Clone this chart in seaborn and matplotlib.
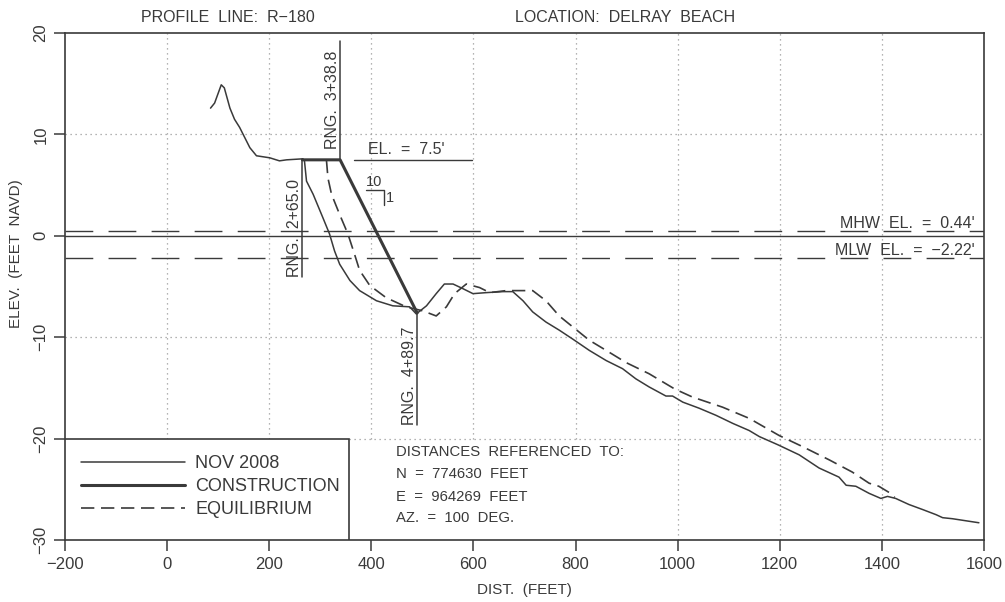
import matplotlib
matplotlib.use("Agg")
import matplotlib.pyplot as plt
import seaborn as sns
import pandas as pd
from matplotlib.patches import Rectangle

# ---------------- data ----------------
nov_x = [85, 93, 106, 112, 123, 132, 142, 152, 162, 175, 201, 220, 234, 266, 269, 273, 286,
         305, 318, 328, 338, 358, 377, 410, 442, 475, 488, 508, 527, 543, 560, 579, 599,
         625, 658, 677, 697, 716, 742, 768, 795, 827, 860, 892, 918, 944, 977,
         990, 1010, 1042, 1075, 1108, 1140, 1160, 1196, 1238, 1277, 1316, 1330, 1349,
         1375, 1398, 1411, 1427, 1453, 1480, 1506, 1519, 1538, 1564, 1590]
nov_y = [12.6, 13.1, 14.9, 14.6, 12.6, 11.5, 10.7, 9.7, 8.7, 7.9, 7.7, 7.4, 7.5, 7.6, 7.4,
         5.4, 4.1, 1.8, 0.2, -1.5, -2.8, -4.4, -5.4, -6.4, -6.9, -7.0, -7.7, -6.9, -5.7,
         -4.75, -4.75, -5.2, -5.7, -5.6, -5.5, -5.5, -6.4, -7.5, -8.5, -9.3,
         -10.2, -11.3, -12.3, -13.1, -14.1, -14.9, -15.8, -15.8, -16.4, -17.0, -17.7,
         -18.5, -19.2, -19.8, -20.6, -21.6, -22.9, -23.8, -24.6, -24.7, -25.4, -25.9,
         -25.7, -25.9, -26.5, -27.0, -27.5, -27.8, -27.9, -28.1, -28.3]

eq_x = [312, 315, 322, 338, 354, 367, 377, 397, 429, 468, 501, 527, 547, 563, 586, 612,
        632, 664, 716, 742, 768, 795, 827, 860, 899, 944, 994, 1029, 1088,
        1140, 1199, 1245, 1297, 1342, 1375, 1394, 1417, 1425]
eq_y = [7.5, 5.7, 4.1, 2.1, 0.2, -1.8, -3.4, -4.9, -6.1, -7.0, -7.4, -7.9, -7.0, -5.7,
        -4.75, -5.1, -5.6, -5.4, -5.4, -6.4, -7.9, -9.0, -10.3, -11.3,
        -12.5, -13.6, -15.1, -15.9, -16.9, -18.0, -19.7, -20.8, -22.1, -23.3, -24.4,
        -24.7, -25.4, -25.8]

con_x = [265.0, 338.8, 489.7]
con_y = [7.5, 7.5, -7.6]

mhw_el = 0.44
mlw_el = -2.22
berm_el = 7.5

x_ticks = [-200, 0, 200, 400, 600, 800, 1000, 1200, 1400, 1600]
y_ticks = [-30, -20, -10, 0, 10, 20]

legend_labels = ["NOV 2008", "CONSTRUCTION", "EQUILIBRIUM"]
ref_lines = ["DISTANCES  REFERENCED  TO:", "N  =  774630  FEET",
             "E  =  964269  FEET", "AZ.  =  100  DEG."]

# ---------------- style ----------------
sns.set_theme(style="white")
plt.rcParams['font.family'] = ['Liberation Sans', 'DejaVu Sans']
INK = "#3a3a3a"
GRID = "#9a9a9a"

fig = plt.figure(figsize=(10.05, 6.02), dpi=100)
ax = fig.add_axes([0.0647, 0.103, 0.9144, 0.842])
ax.set_xlim(-200, 1600)
ax.set_ylim(-30, 20)

# grid (dotted); lines stop at the legend / reference box
box_right = 356
text_box_right = 850
for gx in x_ticks[1:-1]:
    lo = -20 if gx <= text_box_right else -30
    ax.plot([gx, gx], [lo, 20], color=GRID, lw=0.9, ls=(0, (1, 3)), zorder=1)
for gy in [10, -10]:
    ax.plot([-200, 1600], [gy, gy], color=GRID, lw=0.9, ls=(0, (1, 3)), zorder=1)
ax.plot([box_right, 1600], [-20, -20], color=GRID, lw=0.9, ls=(0, (1, 3)), zorder=1)

# datum and water levels
ax.axhline(0, color=INK, lw=1.0, zorder=2)
ax.axhline(mhw_el, color=INK, lw=1.0, dashes=(20, 11), zorder=2)
ax.axhline(mlw_el, color=INK, lw=1.0, dashes=(20, 11), zorder=2)

# profiles
df_nov = pd.DataFrame({"x": nov_x, "y": nov_y})
df_con = pd.DataFrame({"x": con_x, "y": con_y})
df_eq = pd.DataFrame({"x": eq_x, "y": eq_y})
sns.lineplot(data=df_nov, x="x", y="y", sort=False, estimator=None, color=INK, lw=1.1,
             ax=ax, label=legend_labels[0], zorder=4)
sns.lineplot(data=df_con, x="x", y="y", sort=False, estimator=None, color=INK, lw=2.2,
             ax=ax, label=legend_labels[1], zorder=4)
sns.lineplot(data=df_eq, x="x", y="y", sort=False, estimator=None, color=INK, lw=1.2,
             ax=ax, label=legend_labels[2], zorder=4)
ax.lines[-1].set_dashes((8, 4))

# range markers
ax.plot([con_x[1], con_x[1]], [con_y[1], 19.2], color=INK, lw=1.1, zorder=3)
ax.text(con_x[1] - 15, 8.6, "RNG.  3+38.8", rotation=90, ha="center", va="bottom",
        fontsize=11.5, color=INK)
ax.plot([con_x[0], con_x[0]], [con_y[0], -4.1], color=INK, lw=1.1, zorder=3)
ax.text(con_x[0] - 15, -4.1, "RNG.  2+65.0", rotation=90, ha="center", va="bottom",
        fontsize=11.5, color=INK)
ax.plot([con_x[2], con_x[2]], [con_y[2], -18.7], color=INK, lw=1.1, zorder=3)
ax.text(con_x[2] - 15, -18.7, "RNG.  4+89.7", rotation=90, ha="center", va="bottom",
        fontsize=11.5, color=INK)

# berm elevation
ax.plot([366, 598], [berm_el, berm_el], color=INK, lw=1.0, zorder=3)
ax.text(393, berm_el + 0.3, "EL.  =  7.5'", ha="left", va="bottom", fontsize=11.5, color=INK)

# slope symbol 10:1
ax.text(406, 4.6, "10", ha="center", va="bottom", fontsize=10.5, color=INK)
ax.plot([390, 424, 424], [4.5, 4.5, 3.0], color=INK, lw=1.0)
ax.text(428, 3.7, "1", ha="left", va="center", fontsize=10.5, color=INK)

# water level labels
ax.text(1582, mhw_el, "MHW  EL.  =  0.44'", ha="right", va="bottom", fontsize=11.5, color=INK)
ax.text(1582, mlw_el, "MLW  EL.  =  \u22122.22'", ha="right", va="bottom", fontsize=11.5, color=INK)

# legend box
ax.add_patch(Rectangle((-200, -30), box_right + 200, 10, facecolor="white",
                       edgecolor=INK, lw=1.2, zorder=5))
handles, labels = ax.get_legend_handles_labels()
leg = ax.legend(handles, labels, loc="upper left", bbox_to_anchor=(-168, -21.6),
                bbox_transform=ax.transData, frameon=False, fontsize=13,
                handlelength=5.75, handletextpad=0.55, labelspacing=0.34,
                borderpad=0, borderaxespad=0)
leg.set_zorder(6)
for t in leg.get_texts():
    t.set_color(INK)

# reference text block
ref_y = [-21.3, -23.5, -25.8, -27.8]
for ty, s in zip(ref_y, ref_lines):
    ax.text(448, ty, s, ha="left", va="center", fontsize=10.7, color=INK, zorder=6)

# titles
fig.text(228 / 1005, 1 - 18 / 602, "PROFILE  LINE:  R\u2212180", ha="center", va="center",
         fontsize=11.5, color=INK)
fig.text(625 / 1005, 1 - 18 / 602, "LOCATION:  DELRAY  BEACH", ha="center", va="center",
         fontsize=11.5, color=INK)

# axes, ticks, labels
ax.set_xticks(x_ticks)
ax.set_yticks(y_ticks)
ax.set_xticklabels([f"{v}".replace("-", "\u2212") for v in x_ticks])
ax.set_yticklabels([f"{v}".replace("-", "\u2212") for v in y_ticks], rotation=90, va="center")
ax.tick_params(axis="both", direction="out", length=8, width=1.1, color=INK,
               labelcolor=INK, labelsize=12, bottom=True, left=True, pad=4)
ax.set_xlabel("DIST.  (FEET)", fontsize=11, color=INK, labelpad=8)
ax.set_ylabel("ELEV.  (FEET  NAVD)", fontsize=11, color=INK)
ax.yaxis.set_label_coords(-0.046, 0.565)
for sp in ax.spines.values():
    sp.set_color(INK)
    sp.set_linewidth(1.2)

fig.savefig("out.png", dpi=100, facecolor="white")
